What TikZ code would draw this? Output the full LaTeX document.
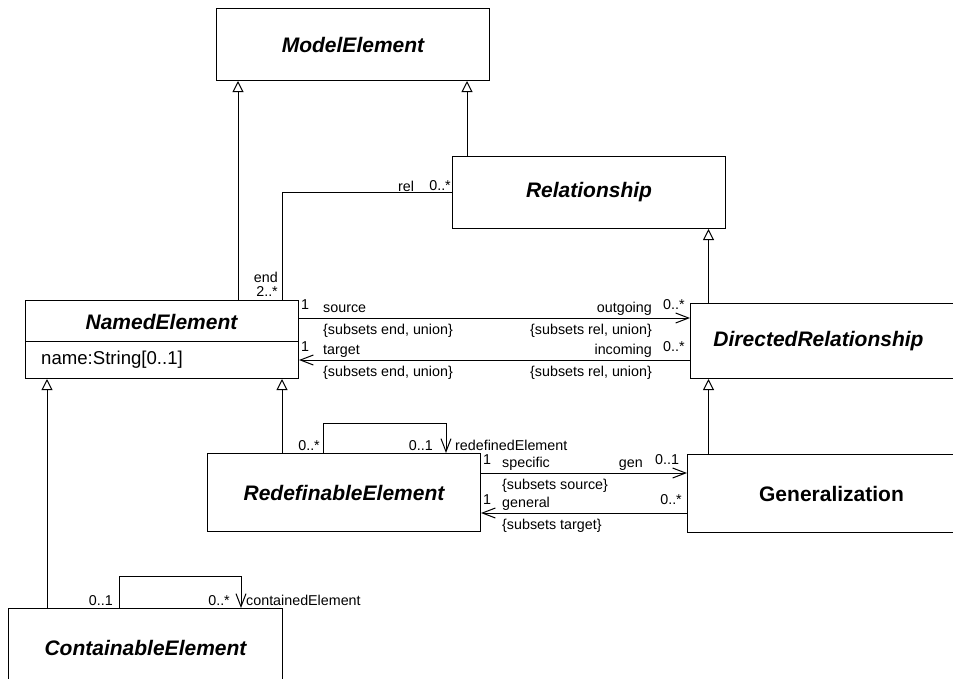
\documentclass[tikz,border=0pt]{standalone}
\usepackage{fontspec}
\setmainfont{Liberation Sans}
\usetikzlibrary{arrows.meta}
\begin{document}
\begin{tikzpicture}[x=1pt,y=-1pt,
  cls/.style={draw, line width=1pt, minimum width=273pt, minimum height=72pt,
    anchor=north west, inner sep=0pt,
    font=\fontsize{21}{25}\selectfont\bfseries\itshape},
  lbl/.style={inner sep=0pt, font=\fontsize{14.3}{17}\selectfont},
  lw/.style={lbl, anchor=base west},
  le/.style={lbl, anchor=base east},
  conn/.style={line width=1pt},
  inh/.style={conn, -{Triangle[open,length=11pt,width=11pt]}},
  nav/.style={conn, -{Straight Barb[length=13pt,width=10pt]}},
]
\useasboundingbox (0,0) rectangle (953,678);
\clip (0,0) rectangle (953,678);

% classes
\node[cls] (me) at (216,8) {ModelElement};
\node[cls] (rel) at (452,156) {Relationship};
\node[cls, minimum height=78pt] (ne) at (25,300) {};
\node[inner sep=0pt, font=\fontsize{21}{25}\selectfont\bfseries\itshape] (neName) at (161.5,321.5) {NamedElement};
\node[inner sep=0pt, anchor=base west, font=\fontsize{18.6}{22}\selectfont] (neAttr) at (41,364.5) {name:String[0..1]};
\node[cls, minimum height=75pt] (dr) at (690,303) {DirectedRelationship\hspace*{17pt}};
\node[cls, minimum height=78pt] (re) at (207,453) {RedefinableElement};
\node[cls, minimum height=78pt, font=\fontsize{21}{25}\selectfont\bfseries] (gen) at (687,454) {\hspace*{15pt}Generalization};
\node[cls, minimum width=274pt, minimum height=78pt] (ce) at (8,608) {ContainableElement};

% compartment divider of NamedElement
\coordinate (neDiv) at (0,341);
\draw[conn] (ne.west |- neDiv) -- (ne.east |- neDiv);

% connector lanes
\coordinate (xA) at (238,0);
\coordinate (xB) at (467,0);
\coordinate (xC) at (282,0);
\coordinate (xD) at (708.5,0);
\coordinate (xE) at (47,0);
\coordinate (ySrc) at (0,318);
\coordinate (yTgt) at (0,360);
\coordinate (ySpec) at (0,473);
\coordinate (yGenl) at (0,513);
\coordinate (reL1) at (323,423);
\coordinate (reL2) at (446,423);
\coordinate (ceL1) at (119,576);
\coordinate (ceL2) at (241,576);

% generalizations
\draw[inh] (ne.north -| xA) -- (me.south -| xA);
\draw[inh] (rel.north -| xB) -- (me.south -| xB);
\draw[inh] (dr.north -| xD) -- (rel.south -| xD);
\draw[inh] (gen.north -| xD) -- (dr.south -| xD);
\draw[inh] (re.north -| xC) -- (ne.south -| xC);
\draw[inh] (ce.north -| xE) -- (ne.south -| xE);

% associations
\draw[conn] (rel.west) -| (ne.north -| xC);
\draw[nav] (ne.east |- ySrc) -- (dr.west |- ySrc);
\draw[nav] (dr.west |- yTgt) -- (ne.east |- yTgt);
\draw[nav] (re.east |- ySpec) -- (gen.west |- ySpec);
\draw[nav] (gen.west |- yGenl) -- (re.east |- yGenl);
\draw[nav] (re.north -| reL1) -- (reL1) -- (reL2) -- (re.north -| reL2);
\draw[nav] (ce.north -| ceL1) -- (ceL1) -- (ceL2) -- (ce.north -| ceL2);

% association end labels
\node[lw] (lRel) at (398,191) {rel};
\node[le] (lRelM) at (451,190) {0..*};
\node[le] (lEnd) at (278,282) {end};
\node[le] (lEndM) at (278,296) {2..*};

\node[lw] (lSrcM) at (301,309) {1};
\node[lw] (lSrc) at (323,312) {source};
\node[lw] (lSrcC) at (323,334.5) {\{subsets end, union\}};
\node[le] (lOut) at (652,312) {outgoing};
\node[lw] (lOutM) at (663,309) {0..*};
\node[le] (lOutC) at (652,334.5) {\{subsets rel, union\}};

\node[lw] (lTgtM) at (301,351) {1};
\node[lw] (lTgt) at (323,354) {target};
\node[lw] (lTgtC) at (323,376) {\{subsets end, union\}};
\node[le] (lIn) at (652,354) {incoming};
\node[lw] (lInM) at (663,351) {0..*};
\node[le] (lInC) at (652,376) {\{subsets rel, union\}};

\node[le] (lRedA) at (320,450) {0..*};
\node[le] (lRedB) at (433,450) {0..1};
\node[lw] (lRed) at (455,450) {redefinedElement};

\node[lw] (lSpecM) at (483,464) {1};
\node[lw] (lSpec) at (502,467) {specific};
\node[lw] (lSpecC) at (502,489) {\{subsets source\}};
\node[le] (lGen) at (643,467) {gen};
\node[lw] (lGenM) at (655,464) {0..1};

\node[lw] (lGnlM) at (483,504) {1};
\node[lw] (lGnl) at (502,507) {general};
\node[le] (lGnlN) at (682,504) {0..*};
\node[lw] (lGnlC) at (502,529) {\{subsets target\}};

\node[le] (lConA) at (113,605) {0..1};
\node[le] (lConB) at (230,605) {0..*};
\node[lw] (lCon) at (246,605) {containedElement};
\end{tikzpicture}
\end{document}
